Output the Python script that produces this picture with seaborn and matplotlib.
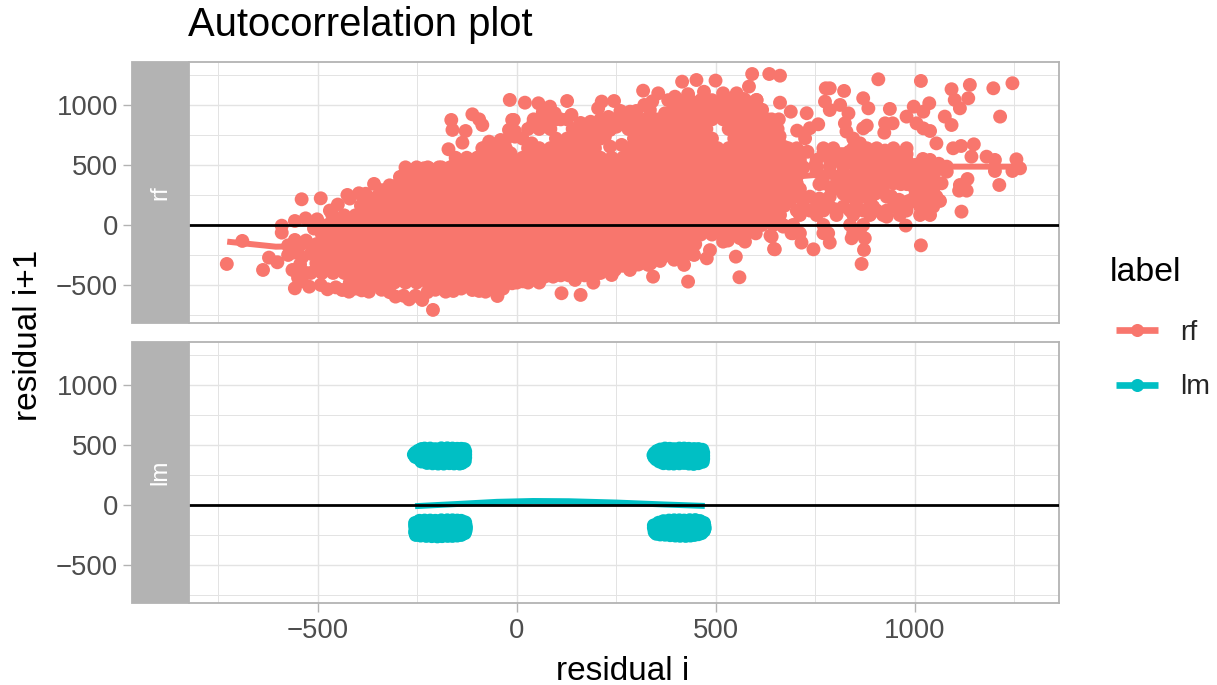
import matplotlib
matplotlib.use('agg')
import matplotlib.pyplot as plt
from matplotlib.lines import Line2D
from matplotlib.patches import Rectangle
import pandas
import seaborn as sns

labels = ["rf", "lm"]
colors = {"rf": "#F8766D", "lm": "#00BFC4"}
xticks = [-500, 0, 500, 1000]
xticks_minor = [-750, -250, 250, 750, 1250]
yticks = [-500, 0, 500, 1000]
yticks_minor = [-750, -250, 250, 750, 1250]

# rf: lone points around the edge of the cloud, read one by one
rf_left = [(-729, -325), (-690, -133), (-638, -375), (-623, -272), (-602, -311), (-591, -6), (-591, -64),
           (-541, 214), (-493, 222), (-558, 33), (-531, 55), (-502, 47), (-558, -125), (-558, -528),
           (-522, -514), (-493, -500), (-476, -536), (-564, -375), (-439, -542), (-422, -556), (-372, -556),
           (-305, -597), (-271, -620), (-211, -708), (-238, -625), (-179, -556), (-112, -542), (-79, -556),
           (-49, -592), (-12, -486), (-464, 83), (-426, 250), (-397, 264), (-359, 342), (-305, 325),
           (-280, 444), (-234, 472), (-187, 444), (-146, 492), (-112, 486), (-172, 631), (-137, 686),
           (-162, 792), (-165, 875), (-129, 783), (-112, 922), (-87, 833), (-95, 880), (-87, 639),
           (-70, 694), (-41, 708), (-20, 792), (-12, 875), (-18, 1042), (-16, 597),
           (-575, -170), (-560, -230), (-575, -250), (-540, -270), (-545, -170), (-530, -130), (-510, -30),
           (-480, -30), (-545, -330), (-530, -400), (-550, -440), (-540, -470)]
rf_top = [(20, 1019), (54, 1014), (83, 986), (126, 1033), (137, 917), (-8, 875), (-5, 736), (41, 847),
          (37, 680), (213, 1028), (244, 1033), (204, 972), (284, 944), (317, 1119), (355, 1097), (334, 958),
          (372, 930), (415, 1194), (451, 1208), (499, 1203), (397, 1069), (552, 1097), (591, 1258),
          (634, 1258), (661, 1244), (583, 1153), (602, 1042), (518, 1097), (661, 1019), (688, 944),
          (728, 931), (757, 839), (704, 786), (736, 806), (724, 722), (682, 639), (711, 611),
          (234, 792), (250, 819), (221, 736), (234, 653), (263, 667)]
rf_top_rim = [(-470, 120), (-450, 170), (-420, 220), (-380, 260), (-340, 290), (-320, 330), (-290, 390), (-260, 450),
              (-220, 470), (-190, 480), (-160, 490), (-125, 500), (-100, 560), (-80, 620), (-55, 670), (-30, 700),
              (-5, 780), (65, 940), (95, 930), (110, 880), (160, 850), (185, 860), (230, 900), (260, 950),
              (300, 950), (320, 1000), (340, 1030), (380, 1040), (430, 1090), (470, 1110), (540, 1050), (570, 1050),
              (640, 880), (655, 800), (660, 740), (672, 650)]
rf_bottom = [(112, -569), (160, -583), (192, -481), (238, -417), (246, -375), (284, -375), (342, -431),
             (330, -333), (420, -333), (430, -472), (477, -278), (550, -264), (559, -436), (573, -139),
             (640, -97), (648, -203), (-13, -472), (28, -445), (91, -431), (146, -458), (368, -264),
             (426, -236), (518, -139), (715, -147), (745, -203), (786, -147), (782, -69), (694, -69),
             (669, -14), (637, -89), (646, -200), (841, -111), (866, -325), (872, -208), (874, -111),
             (977, -5), (929, 69), (1015, -170)]
rf_bottom_rim = [(-455, -520), (-405, -530), (-390, -545), (-340, -540), (-320, -560), (-285, -590), (-255, -590),
                 (-225, -560), (-205, -540), (-160, -550), (-140, -530), (-95, -550), (-60, -540), (-35, -530),
                 (15, -470), (55, -440), (70, -430), (110, -420), (130, -420), (170, -420), (205, -400), (225, -370),
                 (265, -340), (305, -330), (320, -310), (360, -300), (395, -290), (445, -250), (485, -210),
                 (530, -130), (560, -110), (600, -70)]
rf_right = [(908, 1214), (1015, 1200), (776, 1139), (786, 1139), (822, 1117), (1092, 1131), (1138, 1167),
            (1197, 1139), (1245, 1181), (774, 1028), (786, 958), (812, 1000), (833, 930), (870, 1056),
            (883, 972), (937, 967), (979, 903), (997, 986), (1021, 944), (1036, 1014), (1075, 903),
            (1092, 833), (1100, 1042), (1113, 972), (1134, 1056), (1214, 903), (824, 847), (828, 778),
            (845, 720), (862, 680), (870, 805), (879, 828), (925, 847), (944, 847), (923, 769), (1004, 847),
            (1021, 805), (1038, 783), (1054, 680), (1096, 639), (1116, 658), (1148, 672), (1142, 569),
            (1180, 569), (1201, 542), (1255, 547), (1264, 472), (1245, 450), (1201, 450), (1212, 333),
            (1132, 383), (1113, 333), (1130, 286), (1111, 286), (1117, 111)]
rf_mid_extra = [(820, 590), (835, 610), (870, 610), (905, 590), (925, 620), (925, 560), (915, 500), (915, 430),
                (920, 380), (920, 330), (900, 260), (920, 280), (940, 240), (960, 210), (985, 200), (975, 150),
                (1000, 240), (1000, 300), (1025, 300), (1000, 350), (985, 360), (1050, 360), (1050, 440), (1060, 510),
                (1010, 480), (1015, 440), (1000, 500), (1055, 470), (1020, 550), (720, 480), (700, 260), (690, 300),
                (760, 220), (770, 170), (800, 130), (820, 260), (850, 240), (850, 300), (850, 360), (820, 400),
                (760, 340), (790, 300), (820, 330), (815, 520), (840, 520), (870, 520), (870, 440), (900, 470),
                (930, 470), (950, 420), (950, 380), (965, 340), (980, 340), (985, 410), (750, 500), (770, 600),
                (730, 610)]

# rf: the solid part of the cloud, one list of x per band of y
rf_band_m480 = [-420, -392, -364, -336, -308, -280, -252, -224, -196, -168, -140, -112, -84, -56, -28, 0, 28, 56]
rf_band_m400 = [-518, -490, -462, -434, -406, -378, -350, -322, -294, -266, -238, -210, -182, -154, -126, -98,
                -70, -42, -14, 14, 42, 70, 98, 126, 154, 182, 210]
rf_band_m320 = [-504, -476, -448, -420, -392, -364, -336, -308, -280, -252, -224, -196, -168, -140, -112, -84,
                -56, -28, 0, 28, 56, 84, 112, 140, 168, 196, 224, 252, 280, 308, 336]
rf_band_m240 = [-518, -490, -462, -434, -406, -378, -350, -322, -294, -266, -238, -210, -182, -154, -126, -98,
                -70, -42, -14, 14, 42, 70, 98, 126, 154, 182, 210, 238, 266, 294, 322, 350, 378, 406, 434]
rf_band_m160 = [-504, -476, -448, -420, -392, -364, -336, -308, -280, -252, -224, -196, -168, -140, -112, -84,
                -56, -28, 0, 28, 56, 84, 112, 140, 168, 196, 224, 252, 280, 308, 336, 364, 392, 420, 448]
rf_band_m80 = [-490, -462, -434, -406, -378, -350, -322, -294, -266, -238, -210, -182, -154, -126, -98, -70,
               -42, -14, 14, 42, 70, 98, 126, 154, 182, 210, 238, 266, 294, 322, 350, 378, 406, 434, 462, 490,
               518, 546, 574]
rf_band_0 = [-476, -448, -420, -392, -364, -336, -308, -280, -252, -224, -196, -168, -140, -112, -84, -56, -28,
             0, 28, 56, 84, 112, 140, 168, 196, 224, 252, 280, 308, 336, 364, 392, 420, 448, 476, 504, 532,
             560, 588, 616, 644]
rf_band_80 = [-434, -406, -378, -350, -322, -294, -266, -238, -210, -182, -154, -126, -98, -70, -42, -14, 14, 42,
              70, 98, 126, 154, 182, 210, 238, 266, 294, 322, 350, 378, 406, 434, 462, 490, 518, 546, 574, 602,
              630, 658]
rf_band_160 = [-392, -364, -336, -308, -280, -252, -224, -196, -168, -140, -112, -84, -56, -28, 0, 28, 56, 84,
               112, 140, 168, 196, 224, 252, 280, 308, 336, 364, 392, 420, 448, 476, 504, 532, 560, 588, 616,
               644, 672]
rf_band_240 = [-378, -350, -322, -294, -266, -238, -210, -182, -154, -126, -98, -70, -42, -14, 14, 42, 70, 98,
               126, 154, 182, 210, 238, 266, 294, 322, 350, 378, 406, 434, 462, 490, 518, 546, 574, 602, 630,
               658, 686]
rf_band_320 = [-308, -280, -252, -224, -196, -168, -140, -112, -84, -56, -28, 0, 28, 56, 84, 112, 140, 168, 196,
               224, 252, 280, 308, 336, 364, 392, 420, 448, 476, 504, 532, 560, 588, 616, 644, 672, 700]
rf_band_400 = [-294, -266, -238, -210, -182, -154, -126, -98, -70, -42, -14, 14, 42, 70, 98, 126, 154, 182, 210,
               238, 266, 294, 322, 350, 378, 406, 434, 462, 490, 518, 546, 574, 602, 630, 658, 686]
rf_band_480 = [-280, -252, -224, -196, -168, -140, -112, -84, -56, -28, 0, 28, 56, 84, 112, 140, 168, 196, 224,
               252, 280, 308, 336, 364, 392, 420, 448, 476, 504, 532, 560, 588, 616, 644, 672, 700]
rf_band_560 = [-154, -126, -98, -70, -42, -14, 14, 42, 70, 98, 126, 154, 182, 210, 238, 266, 294, 322, 350, 378,
               406, 434, 462, 490, 518, 546, 574, 602, 630, 658, 686]
rf_band_640 = [-84, -56, -28, 28, 56, 84, 112, 140, 168, 196, 280, 308, 336, 364, 392, 420, 448, 476, 504, 532,
               560, 588, 616, 644, 672]
rf_band_720 = [14, 98, 126, 154, 182, 210, 294, 322, 350, 378, 406, 434, 462, 490, 546, 574, 602, 630, 658]
rf_band_800 = [28, 56, 84, 140, 168, 196, 224, 280, 308, 336, 364, 392, 420, 448, 476, 532, 560, 588, 616, 644]
rf_band_880 = [42, 70, 98, 126, 210, 238, 266, 294, 322, 350, 378, 406, 434, 462, 490, 518, 546, 574, 602, 630, 658]
rf_band_960 = [392, 420, 448, 476, 504, 532, 560, 588, 616]
rf_band_1040 = [406, 434, 462, 490, 518, 546, 574, 602]

# rf: looser part of the cloud to the right of x = 620
rf_mid_m69 = [690, 711, 770, 845, 862]
rf_mid_0 = [669, 694, 770, 837, 870]
rf_mid_83 = [623, 661, 711, 753, 803, 845, 887, 920, 962, 1013, 1038]
rf_mid_120 = [636, 703, 736, 770, 803, 837, 870, 904, 929, 979, 1021]
rf_mid_153 = [636, 661, 719, 753, 786, 820, 853, 895, 946, 979, 1013, 1046]
rf_mid_200 = [644, 686, 719, 753, 853, 887, 962, 996, 1029, 1063]
rf_mid_236 = [636, 669, 703, 736, 786, 837, 870, 929, 1004, 1038, 1054]
rf_mid_300 = [644, 678, 711, 795, 837, 870, 904, 1013, 1046]
rf_mid_347 = [636, 669, 703, 770, 803, 837, 870, 895, 946, 1021, 1067]
rf_mid_400 = [644, 678, 703, 770, 803, 837, 870, 895, 979, 1029]
rf_mid_444 = [636, 669, 703, 753, 786, 820, 853, 887, 929, 962, 996, 1029, 1080]
rf_mid_486 = [644, 686, 753, 786, 820, 853, 887, 962, 979, 1038, 1080]
rf_mid_542 = [644, 686, 711, 753, 786, 828, 862, 895, 946, 979, 1038]
rf_mid_590 = [686, 778, 812, 853, 887, 954, 979]
rf_mid_639 = [669, 703, 770, 795, 845, 879, 904, 946, 979]

rf_bands = [(-480, rf_band_m480), (-400, rf_band_m400), (-320, rf_band_m320), (-240, rf_band_m240),
            (-160, rf_band_m160), (-80, rf_band_m80), (0, rf_band_0), (80, rf_band_80), (160, rf_band_160),
            (240, rf_band_240), (320, rf_band_320), (400, rf_band_400), (480, rf_band_480), (560, rf_band_560),
            (640, rf_band_640), (720, rf_band_720), (800, rf_band_800), (880, rf_band_880), (960, rf_band_960),
            (1040, rf_band_1040), (-69, rf_mid_m69), (0, rf_mid_0), (83, rf_mid_83), (120, rf_mid_120),
            (153, rf_mid_153), (200, rf_mid_200), (236, rf_mid_236), (300, rf_mid_300), (347, rf_mid_347),
            (400, rf_mid_400), (444, rf_mid_444), (486, rf_mid_486), (542, rf_mid_542), (590, rf_mid_590),
            (639, rf_mid_639)]

# lm: the four blobs
lm_upper_left = [(-259, 420), (-248, 452), (-246, 385), (-232, 470), (-228, 410), (-226, 350), (-205, 465),
                 (-200, 420), (-198, 345), (-175, 472), (-172, 410), (-170, 348), (-150, 468), (-146, 405),
                 (-144, 345), (-132, 465), (-130, 420), (-131, 365), (-215, 385), (-185, 380), (-158, 440),
                 (-240, 466), (-218, 470), (-190, 472), (-162, 470), (-140, 468), (-240, 362), (-212, 347),
                 (-184, 345), (-158, 346), (-138, 350), (-130, 395), (-130, 445), (-255, 400), (-255, 436)]
lm_upper_right = [(343, 415), (352, 450), (350, 380), (372, 470), (370, 415), (368, 348), (395, 465), (396, 410),
                  (394, 345), (420, 470), (418, 415), (420, 350), (445, 466), (442, 410), (444, 342), (466, 460),
                  (468, 410), (467, 360), (382, 380), (408, 440), (432, 380), (360, 462), (384, 468), (408, 470),
                  (432, 468), (456, 466), (358, 362), (382, 346), (408, 347), (432, 345), (456, 348), (468, 385),
                  (468, 436), (345, 398), (346, 432)]
lm_lower_left = [(-256, -150), (-255, -205), (-254, -250), (-232, -130), (-230, -190), (-228, -258), (-205, -132),
                 (-204, -195), (-200, -262), (-175, -128), (-176, -190), (-174, -258), (-150, -130), (-148, -195),
                 (-150, -255), (-130, -145), (-128, -190), (-131, -235), (-218, -160), (-190, -225), (-162, -160),
                 (-245, -132), (-218, -130), (-190, -128), (-162, -128), (-140, -132), (-242, -255), (-214, -260),
                 (-188, -260), (-162, -258), (-140, -250), (-256, -175), (-256, -228), (-129, -168), (-129, -214)]
lm_lower_right = [(344, -170), (346, -210), (350, -240), (368, -135), (368, -190), (372, -248), (395, -128),
                  (396, -190), (398, -255), (420, -130), (422, -190), (424, -258), (448, -126), (448, -190),
                  (446, -250), (470, -150), (472, -195), (464, -235), (382, -160), (410, -225), (435, -160),
                  (356, -148), (382, -130), (408, -128), (434, -127), (460, -134), (360, -246), (385, -252),
                  (410, -257), (436, -255), (456, -244), (344, -190), (346, -226), (471, -172), (470, -215)]

# smooth curves, mostly hidden under the points in rf
rf_smooth_x = [-728, -606, -400, 0, 500, 800, 1080, 1247]
rf_smooth_y = [-139, -181, -170, 20, 350, 430, 486, 486]
lm_smooth_x = [-256, -150, -50, 40, 130, 250, 370, 472]
lm_smooth_y = [-10, 8, 26, 33, 31, 20, 4, -8]

rf_points = rf_left + rf_top + rf_top_rim + rf_bottom + rf_bottom_rim + rf_right + rf_mid_extra
for band_y, band_x in rf_bands:
    rf_points = rf_points + [(x, band_y) for x in band_x]
lm_points = lm_upper_left + lm_upper_right + lm_lower_left + lm_lower_right

df = pandas.DataFrame(
    [(x, y, "rf") for x, y in rf_points] + [(x, y, "lm") for x, y in lm_points],
    columns=["resid", "resid_next", "label"],
)
smooth = {
    "rf": pandas.DataFrame({"x": rf_smooth_x, "y": rf_smooth_y}),
    "lm": pandas.DataFrame({"x": lm_smooth_x, "y": lm_smooth_y}),
}

sns.set_theme(style="whitegrid")
plt.rcParams['font.family'] = ['Liberation Sans', 'DejaVu Sans']

g = sns.FacetGrid(df, row="label", row_order=labels, sharex=True, sharey=True, despine=False)
g.map_dataframe(sns.scatterplot, x="resid", y="resid_next", hue="label", palette=colors,
                s=100, linewidth=0, legend=False, zorder=3)

fig = g.figure
fig.set_size_inches(12.17, 6.85)
fig.subplots_adjust(left=189 / 1217, right=1059 / 1217, top=1 - 62 / 685, bottom=1 - 603 / 685, hspace=19 / 261)

border = "#B3B3B3"
grid = "#E3E3E3"
tick_text = "#4D4D4D"
strip_w = 57 / 870

for i, label in enumerate(labels):
    ax = g.axes[i][0]
    sns.lineplot(data=smooth[label], x="x", y="y", color=colors[label], linewidth=4.3, ax=ax,
                 estimator=None, sort=False, zorder=2.5, solid_capstyle="butt")
    ax.axhline(0, color="black", linewidth=2.0, zorder=5)

    ax.set_title("")
    ax.set_xlabel("")
    ax.set_ylabel("")
    ax.set_xlim(-824, 1362)
    ax.set_ylim(-817, 1358)

    ax.spines["left"].set_position(("outward", strip_w * 870 * 0.72))
    ax.spines["left"].set_visible(False)
    for side in ["top", "right", "bottom"]:
        ax.spines[side].set_color(border)
        ax.spines[side].set_linewidth(1.3)

    ax.set_xticks(xticks)
    ax.set_yticks(yticks)
    ax.set_xticks(xticks_minor, minor=True)
    ax.set_yticks(yticks_minor, minor=True)
    ax.grid(True, which="major", color=grid, linewidth=1.0)
    ax.grid(True, which="minor", color=grid, linewidth=0.7)
    ax.set_axisbelow(True)
    ax.tick_params(axis="y", which="major", left=True, length=6.5, width=1.0, color=border,
                   labelsize=19.8, labelcolor=tick_text, pad=3.5)
    ax.tick_params(axis="x", which="major", bottom=(i == 1), length=6.5, width=1.0, color=border,
                   labelsize=19.8, labelcolor=tick_text, pad=4.5)
    ax.tick_params(which="minor", length=0)

    # facet strip on the left of the panel
    ax.add_patch(Rectangle((-strip_w, 0), strip_w, 1, transform=ax.transAxes, clip_on=False,
                           facecolor=border, edgecolor=border, linewidth=1.3, zorder=6))
    ax.text(-strip_w / 2, 0.5, label, transform=ax.transAxes, rotation=90, ha="center", va="center",
            color="white", fontsize=17.5, zorder=7)

fig.text(188 / 1217, 1 - 36 / 685, "Autocorrelation plot", fontsize=28.8, color="black", ha="left", va="baseline")
fig.text(623 / 1217, 1 - 671 / 685, "residual i", fontsize=24, color="black", ha="center", va="center")
fig.text(29 / 1217, 1 - 335 / 685, "residual i+1", fontsize=24, color="black", rotation=90, ha="center", va="center")
fig.text(1110 / 1217, 1 - 272 / 685, "label", fontsize=24.4, color="black", ha="left", va="center")

handles = [Line2D([], [], color=colors[k], linewidth=4.8, marker="o", markersize=9.4, markeredgewidth=0,
                  solid_capstyle="butt") for k in labels]
leg = fig.legend(handles, labels, loc="upper left", bbox_to_anchor=(1116 / 1217, 1 - 320 / 685),
                 frameon=False, fontsize=20.5, handlelength=1.47, handletextpad=0.77,
                 labelspacing=1.0, borderpad=0, borderaxespad=0)

fig.savefig("out.png", dpi=100)
